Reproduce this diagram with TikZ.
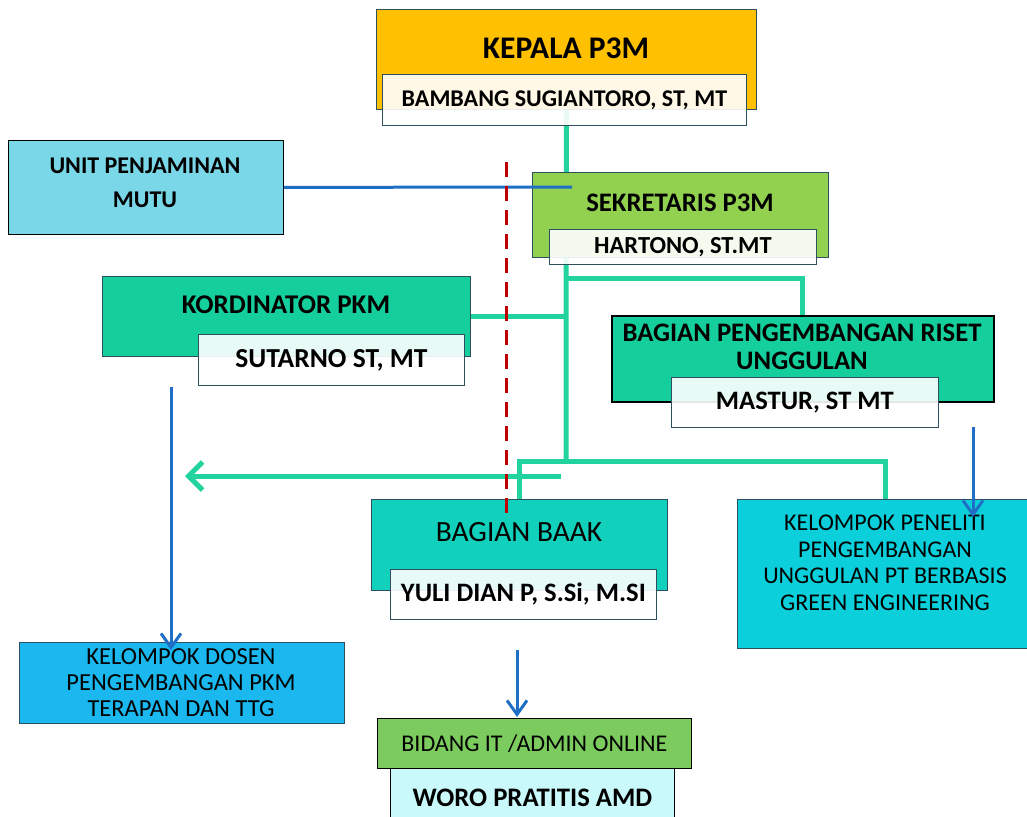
\documentclass[tikz,border=0pt]{standalone}
\usepackage{fontspec}
\setmainfont{Carlito}
\usetikzlibrary{arrows.meta}
\pgfdeclarelayer{bg}
\pgfsetlayers{bg,main}

\definecolor{kepalaC}{HTML}{FFC000}
\definecolor{unitC}{HTML}{7AD7E8}
\definecolor{sekC}{HTML}{92D050}
\definecolor{pkmC}{HTML}{14CF9C}
\definecolor{baakC}{HTML}{12D1BC}
\definecolor{penelitiC}{HTML}{0BCFDA}
\definecolor{dosenC}{HTML}{1AB8EF}
\definecolor{bidangC}{HTML}{7CCB5E}
\definecolor{woroC}{HTML}{C9F9FA}
\definecolor{tealline}{HTML}{22D3A0}
\definecolor{blueline}{HTML}{1F6FC6}
\definecolor{reddash}{HTML}{C00000}
\definecolor{boxline}{HTML}{2E4F5E}

\begin{document}
\begin{tikzpicture}[x=1pt,y=-1pt,
    box/.style={draw=boxline,line width=0.8pt,inner sep=0pt,anchor=north west},
    namebox/.style={box,fill=white,fill opacity=0.9,text opacity=1},
    bold/.style 2 args={font=\fontsize{#1}{#2}\selectfont\bfseries},
    plain/.style 2 args={font=\fontsize{#1}{#2}\selectfont},
    tealconn/.style={draw=tealline,line width=5pt},
    blueconn/.style={draw=blueline,line width=3pt}]
  \useasboundingbox (0,0) rectangle (1027,816);

  % kepala
  \node[box,fill=kepalaC,minimum width=380pt,minimum height=100pt] (kepala) at (376,9) {};
  \node[bold={31.5}{31.5}] (kepalaT) at (566,48) {KEPALA P3M};
  \node[namebox,minimum width=364pt,minimum height=51pt,bold={24}{24}] (kepalaN) at (382,74) {BAMBANG SUGIANTORO, ST, MT};

  % unit penjaminan mutu
  \node[box,draw=black,fill=unitC,minimum width=275pt,minimum height=94pt] (unit) at (8,140) {};
  \node[bold={24}{34},align=center] (unitT) at (145,183) {UNIT PENJAMINAN\\MUTU};

  % sekretaris
  \node[box,fill=sekC,minimum width=296pt,minimum height=85pt] (sek) at (532,172) {};
  \node[bold={26.7}{26.7}] (sekT) at (680,203) {SEKRETARIS P3M};
  \node[namebox,minimum width=267pt,minimum height=35pt,bold={24.5}{24.5}] (sekN) at (549,229) {HARTONO, ST.MT};

  % kordinator pkm
  \node[box,fill=pkmC,minimum width=368pt,minimum height=80pt] (pkm) at (102,276) {};
  \node[bold={27}{27}] (pkmT) at (286,305) {KORDINATOR PKM};
  \node[namebox,minimum width=266pt,minimum height=51pt,bold={27.5}{27.5}] (pkmN) at (198,334) {SUTARNO ST, MT};

  % riset unggulan
  \node[box,draw=black,line width=1.5pt,fill=pkmC,minimum width=382pt,minimum height=86pt] (riset) at (611,315) {};
  \node[bold={26.7}{28},align=center] (risetT) at (802,347) {BAGIAN PENGEMBANGAN RISET\\UNGGULAN};
  \node[namebox,minimum width=267pt,minimum height=50pt,bold={26.6}{26.6}] (risetN) at (671,377) {MASTUR, ST MT};

  % baak
  \node[box,fill=baakC,minimum width=296pt,minimum height=91pt] (baak) at (371,499) {};
  \node[plain={29.4}{29.4}] (baakT) at (519,532) {BAGIAN BAAK};
  \node[namebox,minimum width=266pt,minimum height=50pt,bold={26.6}{26.6}] (baakN) at (390,569) {YULI DIAN P, S.Si, M.SI};

  % kelompok peneliti
  \node[box,fill=penelitiC,minimum width=296pt,minimum height=149pt] (peneliti) at (737,499) {};
  \node[plain={24}{26.5},align=center] (penelitiT) at (885,563) {KELOMPOK PENELITI\\PENGEMBANGAN\\UNGGULAN PT BERBASIS\\GREEN ENGINEERING};

  % kelompok dosen
  \node[box,fill=dosenC,minimum width=325pt,minimum height=81pt] (dosen) at (19,642) {};
  \node[plain={24.5}{26},align=center] (dosenT) at (181,683) {KELOMPOK DOSEN\\PENGEMBANGAN PKM\\TERAPAN DAN TTG};

  % bidang it
  \node[box,draw=black,fill=bidangC,minimum width=314pt,minimum height=50pt,plain={24}{24}] (bidang) at (377,718) {BIDANG IT /ADMIN ONLINE};
  \node[box,draw=black,fill=woroC,minimum width=284pt,minimum height=58pt,bold={26.7}{26.7}] (woro) at (390,768) {WORO PRATITIS AMD};

  \coordinate (hub) at (566,461);
  \coordinate (risetSplit) at (566,278);
  \coordinate (arrS) at (561,476);
  \coordinate (arrE) at (185,476);
  \coordinate (sekL) at (572,187);
  \coordinate (pkmS) at (171,387);
  \coordinate (pkmE) at (171,650);
  \coordinate (risetS) at (973,427);
  \coordinate (risetE) at (973,517);
  \coordinate (baakS) at (517,650);
  \coordinate (baakE) at (517,717);

  \begin{pgfonlayer}{bg}
    \fill[white] (0,0) rectangle (1027,816);
    \draw[tealconn] (kepala.south) -- (hub);
    \draw[tealconn] (risetSplit) -| (riset.north);
    \draw[tealconn] (pkm.east) -- (pkm.east -| hub);
    \draw[tealconn] (baak.north) |- (hub) -| (peneliti.north);
  \end{pgfonlayer}
  \draw[tealconn,-{Straight Barb[length=14pt,width=28pt]}] (arrS) -- (arrE);

  \draw[blueconn] (unit.east) -- (sekL);
  \draw[blueconn,-{Straight Barb[length=14pt,width=20pt]}] (pkmS) -- (pkmE);
  \draw[blueconn,-{Straight Barb[length=14pt,width=20pt]}] (risetS) -- (risetE);
  \draw[blueconn,-{Straight Barb[length=14pt,width=20pt]}] (baakS) -- (baakE);

  \draw[reddash,line width=3pt,dash pattern=on 15pt off 9pt] (506,162) -- (506,515);
\end{tikzpicture}
\end{document}
